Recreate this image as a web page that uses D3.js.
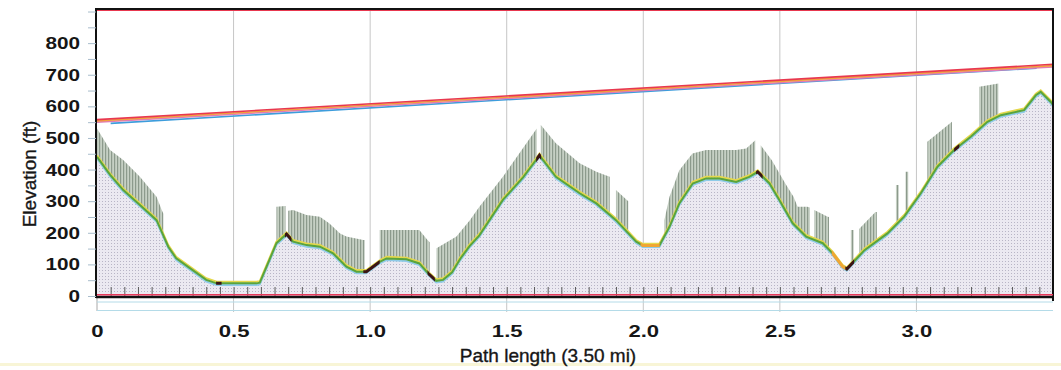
<!DOCTYPE html>
<html>
<head>
<meta charset="utf-8">
<script src="https://cdn.jsdelivr.net/npm/d3@7"></script>
<style>
  html, body { margin: 0; padding: 0; background: #fff; }
  svg { display: block; font-family: "Liberation Sans", Arial, sans-serif; }
</style>
</head>
<body>
<div id="chart"></div>
<script>
// terrain profile: path length (mi) and ground elevation (ft)
const terrainMiles = [0, 0.048, 0.096, 0.157, 0.218, 0.237, 0.261, 0.29, 0.34, 0.4, 0.438, 0.584, 0.596,
  0.657, 0.694, 0.718, 0.767, 0.816, 0.864, 0.913, 0.95, 0.986, 1.035, 1.06, 1.133, 1.18, 1.212, 1.242,
  1.267, 1.3, 1.33, 1.364, 1.4, 1.486, 1.56, 1.62, 1.68, 1.767, 1.828, 1.9, 1.974, 1.998, 2.059, 2.096,
  2.132, 2.181, 2.23, 2.279, 2.34, 2.388, 2.419, 2.462, 2.498, 2.547, 2.596, 2.657, 2.693, 2.73, 2.745,
  2.772, 2.81, 2.894, 2.955, 3.016, 3.077, 3.138, 3.199, 3.26, 3.309, 3.394, 3.437, 3.455, 3.492, 3.5];
const terrainFeet = [440, 383, 335, 288, 240, 203, 156, 119, 88, 51, 40, 40, 42,
  167, 196, 172, 161, 156, 135, 93, 77, 77, 108, 119, 116, 103, 72, 48,
  51, 75, 118, 158, 192, 304, 375, 445, 377, 325, 293, 240, 172, 160, 160, 219,
  293, 356, 372, 372, 361, 377, 393, 356, 304, 230, 188, 167, 135, 93, 85,
  110, 145, 198, 251, 325, 409, 462, 504, 551, 572, 588, 635, 646, 614, 605];

// clutter (trees / buildings) top heights, null marks a gap
const clutterMiles = [0, 0.048, 0.096, 0.157, 0.218, 0.237, 0.243, 0.243,
  0.657, 0.69, 0.69, 0.7, 0.718, 0.767, 0.816, 0.85, 0.89, 0.913, 0.975, 0.98, 0.98,
  1.035, 1.18, 1.21, 1.218, 1.218,
  1.243, 1.316, 1.365, 1.4, 1.486, 1.61, 1.61, 1.625, 1.68, 1.767, 1.828, 1.877, 1.877,
  1.9, 1.94, 1.945, 1.945,
  2.077, 2.096, 2.132, 2.18, 2.23, 2.34, 2.377, 2.41, 2.41, 2.43, 2.47, 2.52, 2.55, 2.565, 2.6, 2.61, 2.61,
  2.626, 2.675, 2.68, 2.68, 2.76, 2.77, 2.77, 2.79, 2.85, 2.855, 2.855,
  2.925, 2.935, 2.935, 2.96, 2.97, 2.97, 3.04, 3.13, 3.13, 3.23, 3.3];
const clutterFeet = [530, 462, 430, 377, 314, 272, 260, null,
  282, 285, null, 270, 272, 256, 251, 230, 198, 188, 177, 177, null,
  209, 209, 177, 170, null,
  151, 188, 240, 282, 377, 530, null, 541, 483, 420, 393, 377, null,
  335, 304, 300, null,
  240, 314, 398, 451, 462, 462, 467, 493, null, 477, 430, 356, 314, 282, 282, 280, null,
  272, 251, 250, null, 209, 209, null, 212, 266, 266, null,
  351, 351, null, 393, 393, null, 488, 551, null, 662, 672];

// line-of-sight rays
const rayColors = ['#3d9ddc', '#e27bb4', '#f2a23c', '#e8384f'];
const rayStartMiles = [0.05, 0, 0, 0];
const rayEndMiles = [3.44, 3.5, 3.5, 3.5];
const rayStartFeet = [546, 550, 554, 558];
const rayEndFeet = [721, 725, 729, 733];

// dark highlighted stretches and orange stretches on the profile line
const markStart = [0.436, 0.688, 0.975, 1.21, 1.608, 2.413, 2.74, 3.138];
const markEnd = [0.456, 0.712, 1.035, 1.237, 1.626, 2.437, 2.772, 3.157];
const orangeStart = [1.99, 2.69];
const orangeEnd = [2.06, 2.74];

const xTickValues = [0, 0.5, 1, 1.5, 2, 2.5, 3];
const xTickLabels = ['0', '0.5', '1.0', '1.5', '2.0', '2.5', '3.0'];
const yTickValues = [0, 100, 200, 300, 400, 500, 600, 700, 800];
const yTickLabels = ['0', '100', '200', '300', '400', '500', '600', '700', '800'];

const width = 1061, height = 370;

const svg = d3.select('#chart').append('svg')
  .attr('width', width)
  .attr('height', height);

const x = d3.scaleLinear().domain([0, 3.5]).range([97, 1053]);
const y = d3.scaleLinear().domain([0, 908]).range([296, 9]);

const defs = svg.append('defs');

const dots = defs.append('pattern')
  .attr('id', 'terrainDots')
  .attr('width', 3).attr('height', 3)
  .attr('patternUnits', 'userSpaceOnUse');
dots.append('rect').attr('width', 3).attr('height', 3).attr('fill', '#ebe9f1');
dots.append('rect').attr('width', 1).attr('height', 1).attr('fill', '#b8b5c6');

const hatch = defs.append('pattern')
  .attr('id', 'clutterHatch')
  .attr('width', 3).attr('height', 4)
  .attr('patternUnits', 'userSpaceOnUse');
hatch.append('rect').attr('width', 3).attr('height', 4).attr('fill', '#c6d0c4');
hatch.append('rect').attr('width', 1.2).attr('height', 4).attr('fill', '#8c9a8c');

// faint scan band at the bottom
svg.append('rect')
  .attr('x', 0).attr('y', 363).attr('width', width).attr('height', 3)
  .attr('fill', '#f8f5d6');

// vertical grid lines
svg.append('g')
  .selectAll('line')
  .data(xTickValues.slice(1))
  .enter()
  .append('line')
  .attr('x1', d => x(d)).attr('x2', d => x(d))
  .attr('y1', y.range()[1]).attr('y2', 312)
  .attr('stroke', '#c6c6c6')
  .attr('stroke-width', 1);

svg.append('line')
  .attr('x1', x(0)).attr('x2', x(0))
  .attr('y1', 297).attr('y2', 311)
  .attr('stroke', '#a8a8a8');

// light lines below the zero line
[302, 310.5].forEach(function (yy) {
  svg.append('line')
    .attr('x1', x(0)).attr('x2', x(3.5))
    .attr('y1', yy).attr('y2', yy)
    .attr('stroke', '#b4dbe8')
    .attr('stroke-width', 1);
});

const terrain = terrainMiles.map((m, i) => ({ m: m, f: terrainFeet[i] }));
const clutter = clutterMiles.map((m, i) => ({ m: m, f: clutterFeet[i] }));

// clutter drawn from the zero line, terrain fill covers the lower part
svg.append('path')
  .datum(clutter)
  .attr('fill', 'url(#clutterHatch)')
  .attr('d', d3.area()
    .defined(d => d.f !== null)
    .x(d => x(d.m))
    .y0(y(0))
    .y1(d => y(d.f)));

svg.append('path')
  .datum(terrain)
  .attr('fill', 'url(#terrainDots)')
  .attr('d', d3.area()
    .x(d => x(d.m))
    .y0(y(0))
    .y1(d => y(d.f)));

// small ticks along the zero line every 0.05 mi
svg.append('g')
  .attr('transform', 'translate(0,' + y(0) + ')')
  .call(d3.axisTop(x).tickValues(d3.range(0.05, 3.5, 0.05)).tickSize(9).tickFormat(''))
  .call(g => g.select('.domain').remove())
  .call(g => g.selectAll('line').attr('stroke', '#5a5a5a'));

// profile line: light blue under, yellow over, green on top
const profileLine = d3.line()
  .x(d => x(d.m))
  .y(d => y(d.f));

svg.append('path')
  .datum(terrain)
  .attr('fill', 'none')
  .attr('stroke', '#8fcbe8')
  .attr('stroke-width', 2)
  .attr('transform', 'translate(0,1.6)')
  .attr('d', profileLine);

svg.append('path')
  .datum(terrain)
  .attr('fill', 'none')
  .attr('stroke', '#e4d84c')
  .attr('stroke-width', 2)
  .attr('transform', 'translate(0,-1.6)')
  .attr('d', profileLine);

svg.append('path')
  .datum(terrain)
  .attr('fill', 'none')
  .attr('stroke', '#5aa43c')
  .attr('stroke-width', 2)
  .attr('d', profileLine);

function clippedProfile(starts, ends, color, prefix) {
  starts.forEach(function (s, i) {
    defs.append('clipPath')
      .attr('id', prefix + i)
      .append('rect')
      .attr('x', x(s)).attr('y', 0)
      .attr('width', x(ends[i]) - x(s)).attr('height', height);
    svg.append('path')
      .datum(terrain)
      .attr('fill', 'none')
      .attr('stroke', color)
      .attr('stroke-width', 3)
      .attr('clip-path', 'url(#' + prefix + i + ')')
      .attr('d', profileLine);
  });
}
clippedProfile(orangeStart, orangeEnd, '#f0a634', 'orangeClip');
clippedProfile(markStart, markEnd, '#3b1414', 'markClip');

// line-of-sight rays
rayColors.forEach(function (c, i) {
  svg.append('line')
    .attr('x1', x(rayStartMiles[i])).attr('y1', y(rayStartFeet[i]))
    .attr('x2', x(rayEndMiles[i])).attr('y2', y(rayEndFeet[i]))
    .attr('stroke', c)
    .attr('stroke-width', 1.6);
});

// frame
svg.append('line')
  .attr('x1', 96).attr('x2', 1054).attr('y1', 9).attr('y2', 9)
  .attr('stroke', '#111').attr('stroke-width', 2);
svg.append('line')
  .attr('x1', 97).attr('x2', 1053).attr('y1', 10.5).attr('y2', 10.5)
  .attr('stroke', '#e8384f').attr('stroke-width', 1);
svg.append('line')
  .attr('x1', 96).attr('x2', 96).attr('y1', 8).attr('y2', 298)
  .attr('stroke', '#111').attr('stroke-width', 2);
svg.append('line')
  .attr('x1', 1053).attr('x2', 1053).attr('y1', 8).attr('y2', 301)
  .attr('stroke', '#111').attr('stroke-width', 2);
svg.append('line')
  .attr('x1', 96).attr('x2', 1054).attr('y1', 297).attr('y2', 297)
  .attr('stroke', '#111').attr('stroke-width', 2.5);
svg.append('line')
  .attr('x1', 97).attr('x2', 1053).attr('y1', 294.8).attr('y2', 294.8)
  .attr('stroke', '#e8385a').attr('stroke-width', 1.6);

// y axis: minor ticks every 50 ft, labels every 100 ft
svg.append('g')
  .attr('transform', 'translate(96,0)')
  .call(d3.axisLeft(y).tickValues(d3.range(0, 901, 50)).tickSize(8).tickFormat(''))
  .call(g => g.select('.domain').remove())
  .call(g => g.selectAll('line').attr('stroke', '#a9bdcc'));

svg.append('g')
  .attr('transform', 'translate(96,0)')
  .call(d3.axisLeft(y).tickValues(yTickValues).tickSize(0).tickPadding(13)
    .tickFormat((d, i) => yTickLabels[i]))
  .call(g => g.select('.domain').remove())
  .call(g => g.selectAll('text')
    .attr('fill', '#161616')
    .attr('transform', 'scale(1.22,1)')
    .style('font-size', '17px')
    .style('font-weight', 'bold'));

// x axis labels
svg.append('g')
  .attr('transform', 'translate(0,296)')
  .call(d3.axisBottom(x).tickValues(xTickValues).tickSize(0).tickPadding(29)
    .tickFormat((d, i) => xTickLabels[i]))
  .call(g => g.select('.domain').remove())
  .call(g => g.selectAll('text')
    .attr('fill', '#161616')
    .attr('transform', 'scale(1.3,1)')
    .style('font-size', '17px')
    .style('font-weight', 'bold'));

// axis titles
svg.append('text')
  .attr('x', 548).attr('y', 362)
  .attr('text-anchor', 'middle')
  .attr('fill', '#161616')
  .style('font-size', '19px')
  .style('stroke', '#161616')
  .style('stroke-width', 0.35)
  .text('Path length (3.50 mi)');

svg.append('text')
  .attr('transform', 'translate(36,174) rotate(-90)')
  .attr('text-anchor', 'middle')
  .attr('fill', '#161616')
  .style('font-size', '19px')
  .style('stroke', '#161616')
  .style('stroke-width', 0.35)
  .text('Elevation (ft)');
</script>
</body>
</html>
